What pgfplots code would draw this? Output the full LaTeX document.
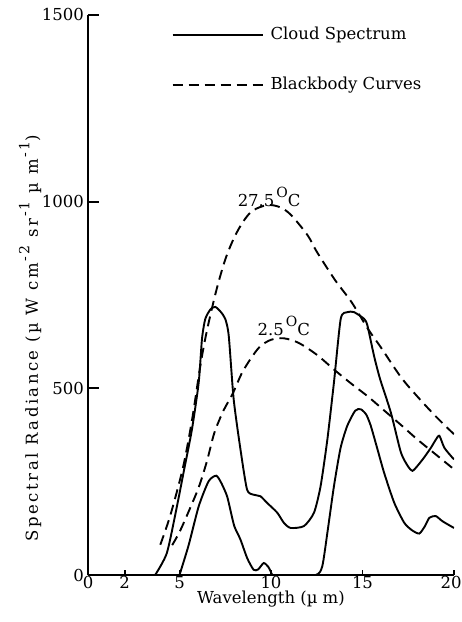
\documentclass[border=0pt]{standalone}
\usepackage{fontspec}
\setmainfont{DejaVu Serif}
\usepackage{pgfplots}
\pgfplotsset{compat=1.18}
\usetikzlibrary{calc}
\newcommand{\sups}[1]{\hspace{2pt}\raisebox{1.0ex}{\fontsize{14}{14}\selectfont #1}}
\begin{document}
\fontsize{16.5}{19}\selectfont
\begin{tikzpicture}
\begin{axis}[
  name=ax, scale only axis, width=366pt, height=560pt,
  xmin=0, xmax=20, ymin=0, ymax=1500,
  axis lines=left, axis line style={-, line width=1.9pt},
  xtick={0,2,5,10,15}, ytick={0,500,1000,1500},
  extra x ticks={20},
  extra x tick style={xticklabel style={xshift=-3pt}},
  tick align=inside, major tick length=11pt,
  tick style={line width=1.9pt, black},
  xtick style={/pgfplots/major tick length=5pt},
  /pgf/number format/assume math mode=true,
  /pgf/number format/1000 sep={},
  xticklabel style={inner sep=1pt},
  yticklabel style={inner sep=4pt},
  xlabel={Wavelength (µ m)},
  ylabel={\addfontfeatures{LetterSpace=15}Spectral Radiance (µ W cm\sups{-2} sr\sups{-1} µ m\sups{-1})},
  xlabel style={at={(axis description cs:0.5,-0.043)}, anchor=center},
  ylabel style={at={(axis description cs:-0.158,0.423)}, anchor=center},
  legend style={at={(axis description cs:0.228,0.982)}, anchor=north west, draw=none, fill=none, row sep=31pt, inner sep=0pt, nodes={inner xsep=7pt}},
  legend cell align=left,
  legend image code/.code={\draw[#1] (0pt,0pt) -- (90pt,0pt);},
  every axis plot/.append style={line width=1.9pt, black},
]
% upper cloud spectrum
\addplot[smooth, tension=0.4] coordinates {
(3.67,0) (4.31,59) (4.86,184) (5.22,274) (5.68,390) (6.05,516) (6.23,633) (6.41,686) (6.7,712) (6.96,718) (7.25,705) (7.5,686) (7.69,641) (7.96,471) (8.33,337) (8.69,229) (9.05,215) (9.42,211) (9.79,193) (10.34,167) (10.7,140) (11.07,126) (11.8,131) (12.35,167) (12.71,238) (13.08,363) (13.44,516) (13.81,686) (14.17,704) (14.54,704) (15.09,686) (15.27,668) (15.63,587) (15.96,525) (16.55,435) (17.1,328) (17.5,290) (17.73,279) (18.0,292) (18.37,315) (18.74,341) (19.0,362) (19.2,373) (19.47,341) (19.9,315) (20.0,310)
};
\addlegendentry{Cloud Spectrum}
% 27.5 C blackbody
\addplot[smooth, dash pattern=on 10pt off 6pt] coordinates {
(3.95,81) (4.5,160) (5.2,290) (5.7,420) (6.14,561) (6.5,655) (7.0,760) (7.5,845) (8.0,905) (8.5,948) (9.0,976) (9.8,991) (10.5,985) (11.1,964) (12.0,910) (12.5,866) (13.5,790) (14.4,731) (15.3,659) (16.0,610) (17.1,530) (18.0,478) (19.0,425) (20.0,377)
};
\addlegendentry{Blackbody Curves}
% 2.5 C blackbody
\addplot[smooth, dash pattern=on 10pt off 6pt, forget plot] coordinates {
(4.6,80) (5.0,115) (5.5,170) (6.05,235) (6.5,305) (6.9,380) (7.4,440) (7.9,485) (8.4,540) (8.9,580) (9.4,612) (10.0,630) (10.7,634) (11.5,622) (12.5,590) (13.5,548) (14.4,512) (15.3,478) (16.2,440) (17.1,402) (18.0,363) (19.0,323) (20.0,283)
};
% lower cloud spectrum
\addplot[smooth, tension=0.4, forget plot] coordinates {
(5.0,0) (5.5,80) (6.05,184) (6.59,251) (7.01,266) (7.3,245) (7.6,211) (7.8,170) (8.0,130) (8.33,95) (8.7,45) (9.05,14) (9.3,15) (9.6,32) (9.85,22) (10.0,8) (10.1,0) (11.0,0) (12.44,0) (12.8,23) (13.1,120) (13.44,238) (13.8,340) (14.17,400) (14.6,440) (14.9,444) (15.2,430) (15.45,400) (15.8,340) (16.18,274) (16.73,194) (17.28,140) (17.7,120) (18.1,111) (18.4,130) (18.65,153) (19.0,158) (19.37,144) (20.0,126)
};
\node at (axis cs:9.9,1013) {27.5\sups{O}C};
\node at (axis cs:10.7,667) {2.5\sups{O}C};
\end{axis}
\pgfresetboundingbox
\path ($(ax.south west)+(-88pt,-47pt)$) rectangle ($(ax.north east)+(7pt,15pt)$);
\end{tikzpicture}
\end{document}
